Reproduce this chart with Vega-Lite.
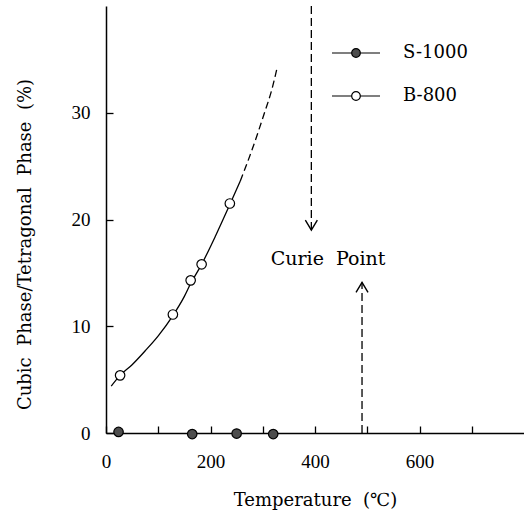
{
  "$schema": "https://vega.github.io/schema/vega-lite/v6.json",
  "width": 418,
  "height": 427,
  "autosize": {"type": "none"},
  "padding": {"left": 106, "top": 6, "right": 0, "bottom": 82},
  "background": "white",
  "config": {
    "font": "DejaVu Serif",
    "view": {"stroke": null},
    "axis": {"grid": false, "labelFlush": false, "domainColor": "black", "tickColor": "black", "labelColor": "black", "titleColor": "black", "domainWidth": 1.5, "tickWidth": 1.3, "titleFont": "DejaVu Serif", "labelFont": "Liberation Serif"},
    "legend": {"labelFont": "DejaVu Serif"},
    "text": {"font": "DejaVu Serif"}
  },
  "datasets": {
    "fit": [
      {"t": 10, "v": 4.4}, {"t": 27, "v": 5.4}, {"t": 50, "v": 6.4}, {"t": 75, "v": 7.7}, {"t": 100, "v": 9.1},
      {"t": 128, "v": 11.0}, {"t": 150, "v": 12.8}, {"t": 162, "v": 14.0}, {"t": 183, "v": 15.8},
      {"t": 210, "v": 18.5}, {"t": 237, "v": 21.4}, {"t": 257, "v": 23.6}
    ],
    "extrap": [
      {"t": 257, "v": 23.6}, {"t": 280, "v": 26.6}, {"t": 304, "v": 30.1},
      {"t": 317, "v": 32.1}, {"t": 327, "v": 34.1}
    ],
    "points": [
      {"t": 24, "v": 0.1, "series": "S-1000"},
      {"t": 165, "v": -0.1, "series": "S-1000"},
      {"t": 250, "v": -0.05, "series": "S-1000"},
      {"t": 320, "v": -0.1, "series": "S-1000"},
      {"t": 27, "v": 5.4, "series": "B-800"},
      {"t": 128, "v": 11.1, "series": "B-800"},
      {"t": 162, "v": 14.3, "series": "B-800"},
      {"t": 183, "v": 15.8, "series": "B-800"},
      {"t": 237, "v": 21.5, "series": "B-800"}
    ],
    "arrows": [
      {"t": 393, "v": 40, "v2": 19.0, "dir": "down"},
      {"t": 490, "v": 0, "v2": 14.1, "dir": "up"}
    ],
    "label": [{"t": 425, "v": 16.3, "text": "Curie \u00a0Point"}]
  },
  "layer": [
    {
      "data": {"name": "fit"},
      "mark": {"type": "line", "interpolate": "monotone", "color": "black", "strokeWidth": 1.3},
      "encoding": {
        "x": {"field": "t", "type": "quantitative", "scale": {"domain": [0, 800]},
          "axis": {"values": [0, 100, 200, 300, 400, 500, 600, 700], "tickSize": -7, "labelFlush": false,
            "labelExpr": "datum.value % 200 === 0 ? datum.label : ''",
            "labelFont": "Liberation Serif", "labelFontSize": 19, "labelPadding": 26,
            "title": "Temperature \u00a0(℃)", "titleFont": "DejaVu Serif", "titleFontSize": 18, "titleFontWeight": "normal", "titlePadding": 20}},
        "y": {"field": "v", "type": "quantitative", "scale": {"domain": [0, 40]},
          "axis": {"values": [0, 10, 20, 30], "tickSize": -7, "labelFlush": false,
            "labelFont": "Liberation Serif", "labelFontSize": 19, "labelPadding": 23,
            "title": "Cubic \u00a0Phase/Tetragonal \u00a0Phase \u00a0(%)", "titleFont": "DejaVu Serif", "titleFontSize": 18, "titleFontWeight": "normal", "titlePadding": 37, "titleY": 238}}
      }
    },
    {
      "data": {"name": "extrap"},
      "mark": {"type": "line", "interpolate": "monotone", "color": "black", "strokeWidth": 1.3, "strokeDash": [7, 4]},
      "encoding": {
        "x": {"field": "t", "type": "quantitative"},
        "y": {"field": "v", "type": "quantitative"}
      }
    },
    {
      "data": {"name": "arrows"},
      "mark": {"type": "rule", "color": "black", "strokeWidth": 1.3, "strokeDash": [8, 4]},
      "encoding": {
        "x": {"field": "t", "type": "quantitative"},
        "y": {"field": "v", "type": "quantitative"},
        "y2": {"field": "v2"}
      }
    },
    {
      "data": {"name": "arrows"},
      "mark": {"type": "point", "filled": false, "color": "black", "strokeWidth": 1.4, "size": 400, "opacity": 1},
      "encoding": {
        "x": {"field": "t", "type": "quantitative"},
        "y": {"field": "v2", "type": "quantitative"},
        "shape": {"field": "dir", "type": "nominal", "legend": null,
          "scale": {"domain": ["down", "up"], "range": ["M-0.6,-1L0,0L0.6,-1", "M-0.6,1L0,0L0.6,1"]}}
      }
    },
    {
      "encoding": {"y": {"datum": 40, "type": "quantitative"}},
      "mark": {"type": "rule", "color": "black", "strokeWidth": 1.5}
    },
    {
      "data": {"name": "label"},
      "mark": {"type": "text", "font": "DejaVu Serif", "fontSize": 19, "color": "black", "align": "center", "baseline": "middle"},
      "encoding": {
        "x": {"field": "t", "type": "quantitative"},
        "y": {"field": "v", "type": "quantitative"},
        "text": {"field": "text"}
      }
    },
    {
      "data": {"name": "points"},
      "mark": {"type": "point", "filled": true, "stroke": "black", "strokeWidth": 1.2, "size": 90, "opacity": 1},
      "encoding": {
        "x": {"field": "t", "type": "quantitative"},
        "y": {"field": "v", "type": "quantitative"},
        "fill": {"field": "series", "type": "nominal",
          "scale": {"domain": ["S-1000", "B-800"], "range": ["#4d4d4d", "#ffffff"]},
          "legend": {"orient": "none", "legendX": 225, "legendY": 22, "title": null, "padding": 0, "rowPadding": 9,
            "symbolType": "M-1,0L-0.18,0M0.18,0L1,0M-0.18,0A0.18,0.18,0,1,1,0.18,0A0.18,0.18,0,1,1,-0.18,0Z",
            "symbolSize": 2304, "symbolStrokeColor": "black", "symbolStrokeWidth": 1.2,
            "labelFont": "DejaVu Serif", "labelFontSize": 18, "labelColor": "black", "labelOffset": 22}}
      }
    }
  ]
}
